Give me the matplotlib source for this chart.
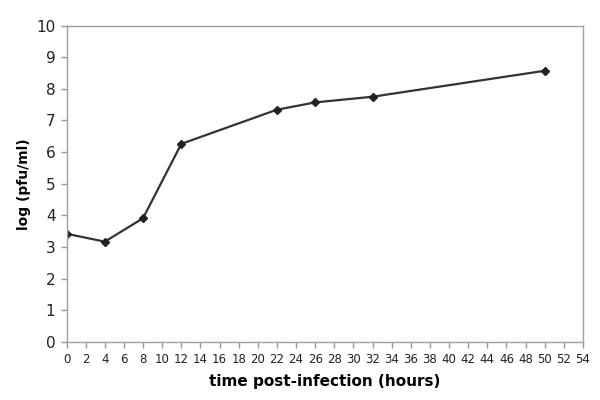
import numpy as np
import matplotlib
matplotlib.use("Agg")
import matplotlib.pyplot as plt

# time post-infection (hours) vs log titer
hours = [0, 4, 8, 12, 22, 26, 32, 50]
log_pfu = [3.42, 3.17, 3.91, 6.26, 7.34, 7.57, 7.75, 8.57]

x_ticks = np.arange(0, 55, 2)
y_ticks = np.arange(0, 11, 1)

fig = plt.figure(figsize=(6, 4), dpi=100)
ax = fig.add_axes([66.5 / 600, 58 / 400, 516.5 / 600, 316.5 / 400])

ax.plot(hours, log_pfu, color="#333333", linewidth=1.6,
        marker="D", markersize=4.5, markerfacecolor="#222222", markeredgecolor="#222222")

ax.set_xlim(0, 54)
ax.set_ylim(0, 10)
ax.set_xticks(x_ticks)
ax.set_yticks(y_ticks)
ax.tick_params(axis="both", direction="out", length=4, color="#999999", width=1)
ax.tick_params(axis="x", labelsize=8.5, pad=4, labelcolor="#222222")
ax.tick_params(axis="y", labelsize=11, pad=4, labelcolor="#222222")
for s in ax.spines.values():
    s.set_color("#a0a0a0")
    s.set_linewidth(1)

ax.set_xlabel("time post-infection (hours)", fontsize=11, fontweight="bold", labelpad=6)
ax.set_ylabel("log (pfu/ml)", fontsize=10, fontweight="bold", labelpad=4)

fig.savefig("out.png", dpi=100)
